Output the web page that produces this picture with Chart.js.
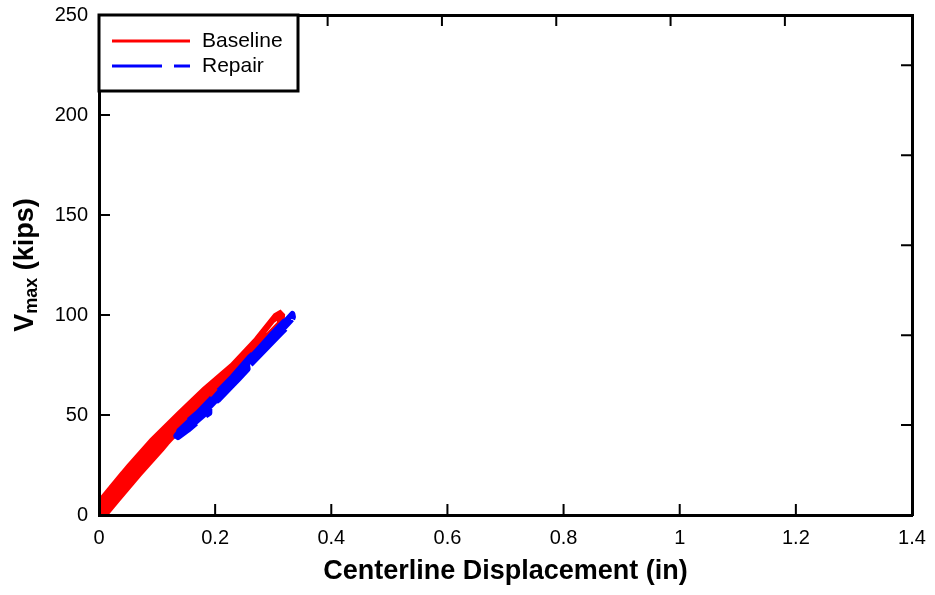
<!DOCTYPE html>
<html>
<head>
<meta charset="utf-8">
<script src="https://cdn.jsdelivr.net/npm/chart.js@4.4.0/dist/chart.umd.min.js"></script>
<style>
  body { margin: 0; background: #fff; }
  #wrap { width: 935px; height: 595px; }
</style>
</head>
<body>
<div id="wrap"><canvas id="myChart" width="935" height="595"></canvas></div>
<script>
// hysteresis loops: centerline displacement (in) vs Vmax (kips)
const seriesNames = ['Baseline', 'Repair'];

const baselineX = [
    0.006, 0.003, 0.02, 0.04, 0.06, 0.065, 0.055, 0.035, 0.015, 0.008,
    0.005, 0.025, 0.05, 0.08, 0.085, 0.075, 0.05, 0.025, 0.01,
    0.003, 0.02, 0.05, 0.09, 0.11, 0.112, 0.09, 0.06, 0.03, 0.01,
    0.005, 0.03, 0.06, 0.1, 0.13, 0.133, 0.11, 0.08, 0.05, 0.02, 0.01,
    0.003, 0.02, 0.05, 0.09, 0.137, 0.145, 0.14, 0.12, 0.09, 0.05, 0.02, 0.012,
    0.008, 0.04, 0.07, 0.11, 0.14, 0.142, 0.115, 0.085, 0.055, 0.025, 0.01,
    0.003, 0.02, 0.05, 0.09, 0.137, 0.175, 0.182, 0.175, 0.14, 0.1, 0.06, 0.03, 0.01,
    0.01, 0.04, 0.08, 0.12, 0.16, 0.18, 0.178, 0.15, 0.12, 0.08, 0.045, 0.015,
    0.003, 0.05, 0.09, 0.137, 0.18, 0.228, 0.235, 0.232, 0.2, 0.16, 0.12, 0.08, 0.04, 0.012,
    0.008, 0.05, 0.1, 0.15, 0.2, 0.23, 0.228, 0.19, 0.14, 0.1, 0.06, 0.03, 0.01,
    0.003, 0.02, 0.05, 0.09, 0.137, 0.18, 0.228, 0.27, 0.303, 0.312, 0.317, 0.316, 0.27, 0.23, 0.18, 0.131, 0.09, 0.05, 0.012,
    0.008, 0.04, 0.08, 0.13, 0.18, 0.23, 0.27, 0.3, 0.31, 0.31, 0.28, 0.24, 0.2, 0.16, 0.12, 0.08, 0.04, 0.01,
    0.01, 0.05, 0.1, 0.15, 0.2, 0.25, 0.285, 0.29, 0.27, 0.23, 0.19, 0.15, 0.11, 0.07, 0.035, 0.012
];
const baselineY = [
    0, 8, 14, 21, 26, 26, 19, 10, 2, 0,
    2, 13, 22, 30, 30, 23, 14, 5, 0,
    6, 14, 24, 36.5, 41, 40, 30, 19, 8, 0,
    4, 15, 25, 37, 45, 43, 34, 24, 15, 4, 0,
    7, 14, 24.5, 37.5, 51, 52, 47, 39, 28, 15, 4, 0,
    3, 18, 28, 40, 49, 46, 37, 27, 17, 6, 0,
    8, 14, 24.5, 37.5, 51, 61, 60, 56, 45, 32, 19, 8, 0,
    3, 16, 30, 42, 54, 59, 56, 47, 37, 24, 12, 1,
    8, 24.5, 37.5, 51, 63, 75, 75, 71, 62, 50, 37, 24, 11, 0,
    4, 21, 37, 52, 66, 73, 70, 58, 44, 31, 18, 7, 0,
    8, 14, 24.5, 37.5, 51, 63, 75, 88, 100, 101.5, 100, 96, 82, 70, 55, 40, 27, 14, 0,
    4, 19, 33, 47, 61, 74, 86, 97, 99, 96, 87, 75, 63, 50, 37, 24, 11, 0,
    2, 19, 34, 49, 64, 80, 91, 90, 84, 72, 60, 47, 33, 20, 8, 0
];

const repairX = [
    0.135, 0.145, 0.16, 0.18, 0.19, 0.19, 0.175, 0.155, 0.14, 0.133,
    0.14, 0.16, 0.19, 0.22, 0.24, 0.255, 0.256, 0.24, 0.21, 0.18, 0.155, 0.137,
    0.145, 0.17, 0.2, 0.23, 0.25, 0.252, 0.23, 0.2, 0.17, 0.15, 0.136,
    0.15, 0.17, 0.185, 0.18, 0.16, 0.14,
    0.138, 0.16, 0.19, 0.22, 0.25, 0.248, 0.22, 0.19, 0.16, 0.14,
    0.14, 0.17, 0.2, 0.23, 0.26, 0.276, 0.305, 0.325, 0.333, 0.334, 0.33, 0.31, 0.29, 0.27, 0.25, 0.22, 0.19, 0.165, 0.145,
    0.16, 0.2, 0.24, 0.272, 0.3, 0.33, 0.332, 0.31, 0.29, 0.272, 0.26
];
const repairY = [
    40, 43, 47, 51, 53, 51, 48, 43, 40, 39.5,
    42, 47, 55, 64, 70, 75, 73, 68, 59, 51, 44, 40,
    43, 50, 59, 67, 73, 72, 65, 56, 48, 42, 39,
    46, 51, 54, 50, 45, 40,
    42, 48, 57, 66, 75, 72, 63, 54, 46, 41,
    42, 51, 60, 69, 79, 83, 92, 98, 100.5, 99, 96, 90, 84, 78, 72, 63, 54, 47, 41,
    47, 59, 72, 82, 91, 100, 98, 91, 86, 80, 76
];

const xTickLabels = ['0', '0.2', '0.4', '0.6', '0.8', '1', '1.2', '1.4'];
const yTickLabels = ['0', '50', '100', '150', '200', '250'];

const canvas = document.getElementById('myChart');
const ctx = canvas.getContext('2d');

function toPoints(xs, ys) {
    return xs.map((x, i) => ({ x: x, y: ys[i] }));
}

const tickFont = { family: 'Liberation Sans, Arial, sans-serif', size: 20 };

// inward tick marks on all four sides
const innerTicks = {
    id: 'innerTicks',
    afterDatasetsDraw(chart) {
        const c = chart.ctx;
        const area = chart.chartArea;
        const len = 11;
        c.save();
        c.strokeStyle = '#000';
        c.lineWidth = 2;
        c.beginPath();
        chart.scales.x.ticks.forEach(t => {
            const px = chart.scales.x.getPixelForValue(t.value);
            c.moveTo(px, area.bottom); c.lineTo(px, area.bottom - len);
        });
        chart.scales.x2.ticks.forEach(t => {
            const px = chart.scales.x2.getPixelForValue(t.value);
            c.moveTo(px, area.top); c.lineTo(px, area.top + len);
        });
        chart.scales.y.ticks.forEach(t => {
            const py = chart.scales.y.getPixelForValue(t.value);
            c.moveTo(area.left, py); c.lineTo(area.left + len, py);
        });
        chart.scales.y2.ticks.forEach(t => {
            const py = chart.scales.y2.getPixelForValue(t.value);
            c.moveTo(area.right, py); c.lineTo(area.right - len, py);
        });
        c.stroke();
        c.restore();
    }
};

// axis titles and boxed legend in the upper left corner
const decorations = {
    id: 'decorations',
    afterDraw(chart) {
        const c = chart.ctx;
        const area = chart.chartArea;
        c.save();
        c.fillStyle = '#000';

        c.font = 'bold 27px Liberation Sans, Arial, sans-serif';
        c.textAlign = 'center';
        c.textBaseline = 'middle';
        c.fillText('Centerline Displacement (in)', (area.left + area.right) / 2, 572);

        // y title: V with subscript "max"
        c.save();
        c.translate(33, (area.top + area.bottom) / 2);
        c.rotate(-Math.PI / 2);
        c.textAlign = 'left';
        c.textBaseline = 'alphabetic';
        const big = 'bold 27px Liberation Sans, Arial, sans-serif';
        const small = 'bold 18px Liberation Sans, Arial, sans-serif';
        c.font = big;
        const w1 = c.measureText('V').width;
        const w3 = c.measureText(' (kips)').width;
        c.font = small;
        const w2 = c.measureText('max').width;
        let x0 = -(w1 + w2 + w3) / 2;
        c.font = big;
        c.fillText('V', x0, 0);
        c.font = small;
        c.fillText('max', x0 + w1, 4);
        c.font = big;
        c.fillText(' (kips)', x0 + w1 + w2, 0);
        c.restore();

        // legend
        const bx = area.left, by = area.top, bw = 199, bh = 76;
        c.fillStyle = '#fff';
        c.fillRect(bx, by, bw, bh);
        c.strokeStyle = '#000';
        c.lineWidth = 3;
        c.strokeRect(bx, by, bw, bh);
        c.font = '21px Liberation Sans, Arial, sans-serif';
        c.textAlign = 'left';
        c.textBaseline = 'middle';
        chart.data.datasets.forEach((ds, i) => {
            const ly = by + 26 + i * 25;
            c.strokeStyle = ds.borderColor;
            c.lineWidth = 3;
            c.setLineDash(ds.borderDash || []);
            c.beginPath();
            c.moveTo(bx + 13, ly);
            c.lineTo(bx + 91, ly);
            c.stroke();
            c.setLineDash([]);
            c.fillStyle = '#000';
            c.fillText(ds.label, bx + 103, ly);
        });
        c.restore();
    }
};

const myChart = new Chart(ctx, {
    type: 'scatter',
    data: {
        datasets: [{
            label: seriesNames[0],
            data: toPoints(baselineX, baselineY),
            showLine: true,
            borderColor: '#ff0000',
            borderWidth: 4,
            pointRadius: 0,
            tension: 0,
            order: 2
        }, {
            label: seriesNames[1],
            data: toPoints(repairX, repairY),
            showLine: true,
            borderColor: '#0000ff',
            borderWidth: 6,
            borderDash: [50, 12],
            borderJoinStyle: 'round',
            pointRadius: 0,
            tension: 0,
            order: 1
        }]
    },
    options: {
        responsive: false,
        animation: false,
        layout: { padding: { top: 9, right: 23, left: 0, bottom: 0 } },
        plugins: {
            legend: { display: false },
            tooltip: { enabled: false }
        },
        scales: {
            x: {
                type: 'linear',
                position: 'bottom',
                min: 0,
                max: 1.4,
                grid: { display: false },
                border: { display: true, color: '#000', width: 3, z: 1 },
                ticks: {
                    stepSize: 0.2,
                    color: '#000',
                    font: tickFont,
                    padding: 3,
                    maxRotation: 0,
                    callback: (value, index) => xTickLabels[index]
                },
                afterFit: (scale) => { scale.height = 80; }
            },
            x2: {
                type: 'linear',
                position: 'top',
                min: 0,
                max: 1.4 * 25.4,
                grid: { display: false },
                border: { display: true, color: '#000', width: 3, z: 1 },
                ticks: { stepSize: 5, display: false },
                afterFit: (scale) => { scale.height = 0; }
            },
            y: {
                type: 'linear',
                position: 'left',
                min: 0,
                max: 250,
                grid: { display: false },
                border: { display: true, color: '#000', width: 3, z: 1 },
                ticks: {
                    stepSize: 50,
                    color: '#000',
                    font: tickFont,
                    padding: 3,
                    callback: (value, index) => yTickLabels[index]
                },
                afterFit: (scale) => { scale.width = 99; }
            },
            y2: {
                type: 'linear',
                position: 'right',
                min: 0,
                max: 250 * 4.448,
                grid: { display: false },
                border: { display: true, color: '#000', width: 3, z: 1 },
                ticks: { stepSize: 200, display: false },
                afterFit: (scale) => { scale.width = 0; }
            }
        }
    },
    plugins: [innerTicks, decorations]
});
</script>
</body>
</html>
